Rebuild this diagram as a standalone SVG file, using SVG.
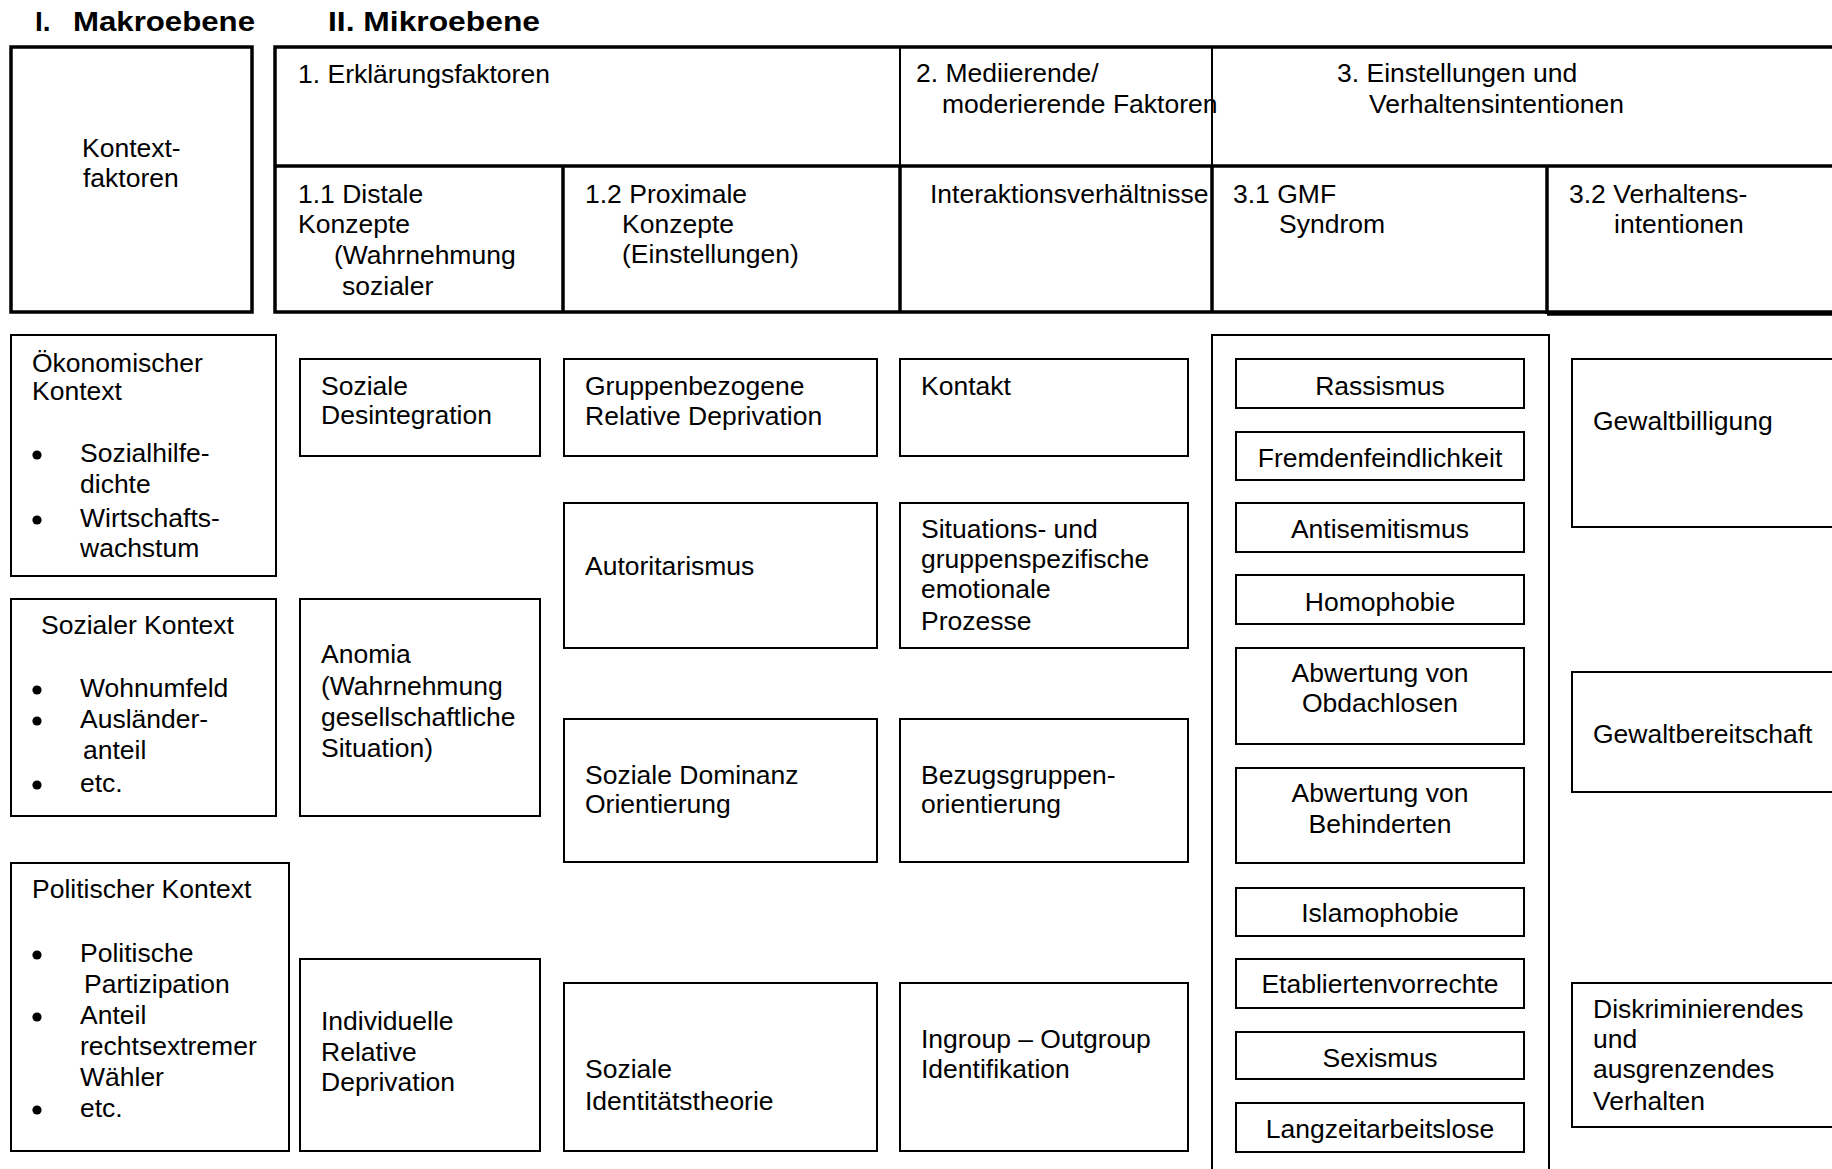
<svg xmlns="http://www.w3.org/2000/svg" width="1832" height="1169" viewBox="0 0 1832 1169">
<style>
.t{font-family:"Liberation Sans",Arial,sans-serif;font-size:26.5px;fill:#000}
.c{text-anchor:middle}
.h{font-family:"Liberation Sans",Arial,sans-serif;font-weight:bold;font-size:28px;fill:#000}
.box{fill:#fff;stroke:#000;stroke-width:2}
.thick{fill:#fff;stroke:#000;stroke-width:3.5}
.ln{stroke:#000;stroke-width:3.5;fill:none}
.lt{stroke:#000;stroke-width:2;fill:none}
.dot{fill:#000}
</style>
<defs>
<circle id="bullet" class="dot" cx="0" cy="0" r="4.6"/>
</defs>
<rect width="1832" height="1169" fill="#fff"/>

<g id="titles">
<text class="h" x="35" y="31">I.</text>
<text class="h" x="73" y="31" textLength="182" lengthAdjust="spacingAndGlyphs">Makroebene</text>
<text class="h" x="328" y="31" textLength="212" lengthAdjust="spacingAndGlyphs">II. Mikroebene</text>
</g>

<g id="kontextfaktoren">
<rect class="thick" x="11" y="47" width="241" height="265"/>
<text class="t" x="82" y="157">Kontext-</text>
<text class="t" x="83" y="187">faktoren</text>
</g>

<g id="header">
<rect class="thick" x="275" y="47" width="1600" height="265"/>
<line class="ln" x1="275" y1="166" x2="1832" y2="166"/>
<line class="lt" x1="900" y1="47" x2="900" y2="166"/>
<line class="lt" x1="1212" y1="47" x2="1212" y2="166"/>
<line class="ln" x1="563" y1="166" x2="563" y2="312"/>
<line class="ln" x1="900" y1="166" x2="900" y2="312"/>
<line class="ln" x1="1212" y1="166" x2="1212" y2="312"/>
<line class="ln" x1="1547" y1="166" x2="1547" y2="314"/>
<line class="ln" x1="1547" y1="314" x2="1832" y2="314"/>
</g>

<g id="h-erklaerung">
<text class="t" x="298" y="83">1. Erklärungsfaktoren</text>
</g>
<g id="h-mediierend">
<text class="t" x="916" y="82">2. Mediierende/</text>
<text class="t" x="942" y="113">moderierende Faktoren</text>
</g>
<g id="h-einstellungen">
<text class="t" x="1337" y="82">3. Einstellungen und</text>
<text class="t" x="1369" y="113">Verhaltensintentionen</text>
</g>
<g id="h-distal">
<text class="t" x="298" y="203">1.1 Distale</text>
<text class="t" x="298" y="233">Konzepte</text>
<text class="t" x="334" y="264">(Wahrnehmung</text>
<text class="t" x="342" y="295">sozialer</text>
</g>
<g id="h-proximal">
<text class="t" x="585" y="203">1.2 Proximale</text>
<text class="t" x="622" y="233">Konzepte</text>
<text class="t" x="622" y="263">(Einstellungen)</text>
</g>
<g id="h-interaktion">
<text class="t" x="930" y="203">Interaktionsverhältnisse</text>
</g>
<g id="h-gmf">
<text class="t" x="1233" y="203">3.1 GMF</text>
<text class="t" x="1279" y="233">Syndrom</text>
</g>
<g id="h-verhalten">
<text class="t" x="1569" y="203">3.2 Verhaltens-</text>
<text class="t" x="1614" y="233">intentionen</text>
</g>

<!-- Context column -->
<g id="oekonomisch">
<rect class="box" x="11" y="335" width="265" height="241"/>
<text class="t" x="32" y="372">Ökonomischer</text>
<text class="t" x="32" y="400">Kontext</text>
<use href="#bullet" x="37" y="455"/>
<text class="t" x="80" y="462">Sozialhilfe-</text>
<text class="t" x="80" y="493">dichte</text>
<use href="#bullet" x="37" y="520"/>
<text class="t" x="80" y="527">Wirtschafts-</text>
<text class="t" x="80" y="557">wachstum</text>
</g>
<g id="sozial">
<rect class="box" x="11" y="599" width="265" height="217"/>
<text class="t" x="41" y="634">Sozialer Kontext</text>
<use href="#bullet" x="37" y="690"/>
<text class="t" x="80" y="697">Wohnumfeld</text>
<use href="#bullet" x="37" y="721"/>
<text class="t" x="80" y="728">Ausländer-</text>
<text class="t" x="83" y="759">anteil</text>
<use href="#bullet" x="37" y="785"/>
<text class="t" x="80" y="792">etc.</text>
</g>
<g id="politisch">
<rect class="box" x="11" y="863" width="278" height="288"/>
<text class="t" x="32" y="898">Politischer Kontext</text>
<use href="#bullet" x="37" y="955"/>
<text class="t" x="80" y="962">Politische</text>
<text class="t" x="84" y="993">Partizipation</text>
<use href="#bullet" x="37" y="1017"/>
<text class="t" x="80" y="1024">Anteil</text>
<text class="t" x="80" y="1055">rechtsextremer</text>
<text class="t" x="80" y="1086">Wähler</text>
<use href="#bullet" x="37" y="1110"/>
<text class="t" x="80" y="1117">etc.</text>
</g>

<!-- Distal column -->
<g id="desintegration">
<rect class="box" x="300" y="359" width="240" height="97"/>
<text class="t" x="321" y="395">Soziale</text>
<text class="t" x="321" y="424">Desintegration</text>
</g>
<g id="anomia">
<rect class="box" x="300" y="599" width="240" height="217"/>
<text class="t" x="321" y="663">Anomia</text>
<text class="t" x="321" y="695">(Wahrnehmung</text>
<text class="t" x="321" y="726">gesellschaftliche</text>
<text class="t" x="321" y="757">Situation)</text>
</g>
<g id="individuelle-rd">
<rect class="box" x="300" y="959" width="240" height="192"/>
<text class="t" x="321" y="1030">Individuelle</text>
<text class="t" x="321" y="1061">Relative</text>
<text class="t" x="321" y="1091">Deprivation</text>
</g>

<!-- Proximal column -->
<g id="gruppen-rd">
<rect class="box" x="564" y="359" width="313" height="97"/>
<text class="t" x="585" y="395">Gruppenbezogene</text>
<text class="t" x="585" y="425">Relative Deprivation</text>
</g>
<g id="autoritarismus">
<rect class="box" x="564" y="503" width="313" height="145"/>
<text class="t" x="585" y="575">Autoritarismus</text>
</g>
<g id="sdo">
<rect class="box" x="564" y="719" width="313" height="143"/>
<text class="t" x="585" y="784">Soziale Dominanz</text>
<text class="t" x="585" y="813">Orientierung</text>
</g>
<g id="sit">
<rect class="box" x="564" y="983" width="313" height="168"/>
<text class="t" x="585" y="1078">Soziale</text>
<text class="t" x="585" y="1110">Identitätstheorie</text>
</g>

<!-- Mediating column -->
<g id="kontakt">
<rect class="box" x="900" y="359" width="288" height="97"/>
<text class="t" x="921" y="395">Kontakt</text>
</g>
<g id="emotionale-prozesse">
<rect class="box" x="900" y="503" width="288" height="145"/>
<text class="t" x="921" y="538">Situations- und</text>
<text class="t" x="921" y="568">gruppenspezifische</text>
<text class="t" x="921" y="598">emotionale</text>
<text class="t" x="921" y="630">Prozesse</text>
</g>
<g id="bezugsgruppen">
<rect class="box" x="900" y="719" width="288" height="143"/>
<text class="t" x="921" y="784">Bezugsgruppen-</text>
<text class="t" x="921" y="813">orientierung</text>
</g>
<g id="ingroup">
<rect class="box" x="900" y="983" width="288" height="168"/>
<text class="t" x="921" y="1048">Ingroup – Outgroup</text>
<text class="t" x="921" y="1078">Identifikation</text>
</g>

<!-- GMF column -->
<g id="gmf-container">
<rect class="box" x="1212" y="335" width="337" height="900"/>
</g>
<g id="rassismus">
<rect class="box" x="1236" y="359" width="288" height="49"/>
<text class="t c" x="1380" y="395">Rassismus</text>
</g>
<g id="fremdenfeindlichkeit">
<rect class="box" x="1236" y="432" width="288" height="48"/>
<text class="t c" x="1380" y="467">Fremdenfeindlichkeit</text>
</g>
<g id="antisemitismus">
<rect class="box" x="1236" y="503" width="288" height="49"/>
<text class="t c" x="1380" y="538">Antisemitismus</text>
</g>
<g id="homophobie">
<rect class="box" x="1236" y="575" width="288" height="49"/>
<text class="t c" x="1380" y="611">Homophobie</text>
</g>
<g id="obdachlose">
<rect class="box" x="1236" y="648" width="288" height="96"/>
<text class="t c" x="1380" y="682">Abwertung von</text>
<text class="t c" x="1380" y="712">Obdachlosen</text>
</g>
<g id="behinderte">
<rect class="box" x="1236" y="768" width="288" height="95"/>
<text class="t c" x="1380" y="802">Abwertung von</text>
<text class="t c" x="1380" y="833">Behinderten</text>
</g>
<g id="islamophobie">
<rect class="box" x="1236" y="888" width="288" height="48"/>
<text class="t c" x="1380" y="922">Islamophobie</text>
</g>
<g id="etabliertenvorrechte">
<rect class="box" x="1236" y="959" width="288" height="49"/>
<text class="t c" x="1380" y="993">Etabliertenvorrechte</text>
</g>
<g id="sexismus">
<rect class="box" x="1236" y="1032" width="288" height="47"/>
<text class="t c" x="1380" y="1067">Sexismus</text>
</g>
<g id="langzeitarbeitslose">
<rect class="box" x="1236" y="1103" width="288" height="49"/>
<text class="t c" x="1380" y="1138">Langzeitarbeitslose</text>
</g>

<!-- Behaviour column -->
<g id="gewaltbilligung">
<rect class="box" x="1572" y="359" width="300" height="168"/>
<text class="t" x="1593" y="430">Gewaltbilligung</text>
</g>
<g id="gewaltbereitschaft">
<rect class="box" x="1572" y="672" width="300" height="120"/>
<text class="t" x="1593" y="743">Gewaltbereitschaft</text>
</g>
<g id="diskriminierendes-verhalten">
<rect class="box" x="1572" y="983" width="300" height="144"/>
<text class="t" x="1593" y="1018">Diskriminierendes</text>
<text class="t" x="1593" y="1048">und</text>
<text class="t" x="1593" y="1078">ausgrenzendes</text>
<text class="t" x="1593" y="1110">Verhalten</text>
</g>

<g id="connectors"></g>
</svg>
